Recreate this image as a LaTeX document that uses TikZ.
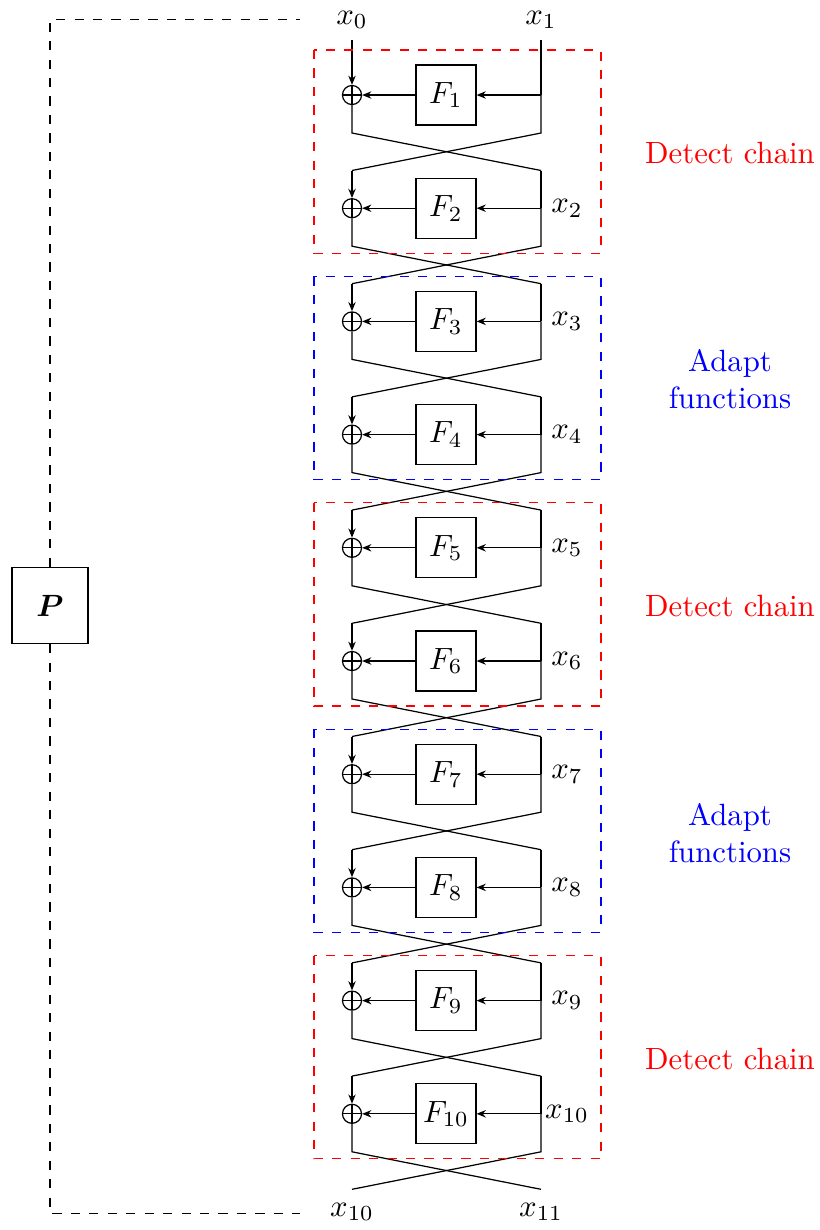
\documentclass[tikz,border=0pt]{standalone}
\usepackage{bm}
\usetikzlibrary{arrows.meta}
\begin{document}
\begin{tikzpicture}[x=0.3252pt,y=-0.3252pt,
  fbox/.style={draw,minimum size=19.5pt,inner sep=0pt},
  xor/.style={draw,circle,minimum size=6.2pt,inner sep=0pt,
    path picture={\draw (path picture bounding box.north) -- (path picture bounding box.south)
                        (path picture bounding box.west) -- (path picture bounding box.east);}},
  arr/.style={-{Stealth[length=3pt,width=2.4pt]}},
  redbox/.style={draw=red,dashed},
  bluebox/.style={draw=blue,dashed},
  redlab/.style={text=red,align=center},
  bluelab/.style={text=blue,align=center},
  pbox/.style={draw,minimum size=24.7pt,inner sep=0pt},
  ctrl/.style={dashed}]
\useasboundingbox (0,0) rectangle (820,1230);
% rows
\foreach \i in {1,...,10}{
  \pgfmathsetmacro\y{95+113.2*(\i-1)}
  \node[fbox] (F\i) at (446,\y) {$F_{\i}$};
  \node[xor] (X\i) at (352,\y) {};
  \coordinate (R\i) at (541,\y);
  \coordinate (LA\i) at (352,\y+38);
  \coordinate (RA\i) at (541,\y+38);
  \coordinate (LB\i) at (352,\y+75.5);
  \coordinate (RB\i) at (541,\y+75.5);
}
\foreach \i in {2,...,10}{
  \node (lab\i) at (567,95+113.2*\i-113.2) {$x_{\i}$};
}
\foreach \i in {1,...,10}{
  \draw[arr] (R\i) -- (F\i);
  \draw[arr] (F\i) -- (X\i);
  \draw (X\i) -- (LA\i) -- (RB\i);
  \draw (R\i) -- (RA\i) -- (LB\i);
}
\foreach \i [evaluate=\i as \j using int(\i+1)] in {1,...,9}{
  \draw[arr] (LB\i) -- (X\j);
  \draw (RB\i) -- (R\j);
}
% inputs / outputs
\node (x0) at (352,20) {$x_0$};
\node (x1) at (541,20) {$x_1$};
\draw[arr] (x0) -- (X1);
\draw (x1) -- (R1);
\node (y10) at (352,1212) {$x_{10}$};
\node (y11) at (541,1212) {$x_{11}$};
% dashed group boxes
\draw[redbox]  (314,50)    rectangle (601,253.2);
\draw[bluebox] (314,276.4) rectangle (601,479.6);
\draw[redbox]  (314,502.8) rectangle (601,706);
\draw[bluebox] (314,729.2) rectangle (601,932.4);
\draw[redbox]  (314,955.6) rectangle (601,1158.8);
\node[redlab]  (g1) at (730,153) {Detect chain};
\node[bluelab] (g2) at (730,379) {Adapt\\functions};
\node[redlab]  (g3) at (730,606) {Detect chain};
\node[bluelab] (g4) at (730,833) {Adapt\\functions};
\node[redlab]  (g5) at (730,1059) {Detect chain};
% P block
\node[pbox] (P) at (50,605.5) {$\bm{P}$};
\coordinate (PT) at (50,19.5);
\coordinate (PTR) at (300,19.5);
\coordinate (PB) at (50,1213.7);
\coordinate (PBR) at (300,1213.7);
\draw[ctrl] (P.north) -- (PT) -- (PTR);
\draw[ctrl] (P.south) -- (PB) -- (PBR);
\end{tikzpicture}
\end{document}
